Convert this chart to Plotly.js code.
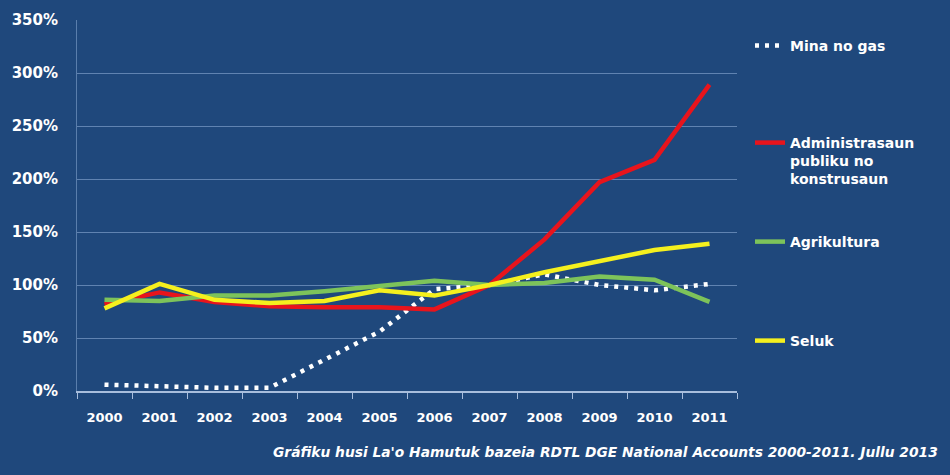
<!DOCTYPE html>
<html>
<head>
<meta charset="utf-8">
<script src="https://cdn.plot.ly/plotly-3.0.1.min.js"></script>
<style>
  html, body { margin: 0; padding: 0; background: #1F487C; }
  #chart { width: 950px; height: 475px; }
</style>
</head>
<body>
<div id="chart"></div>
<script>
const years = ["2000","2001","2002","2003","2004","2005","2006","2007","2008","2009","2010","2011"];
const minaNoGas = [6, 4, 3, 3, 30, 56, 96, 100, 110, 100, 95, 101];
const administrasaun = [82, 93, 84, 80, 79, 79, 77, 100, 143, 197, 218, 289];
const agrikultura = [86, 85, 90, 90, 94, 99, 104, 100, 102, 108, 105, 84];
const seluk = [78, 101, 86, 83, 85, 95, 90, 100, 112, 122, 133, 139];
const seriesNames = ["Mina no gas", "Administrasaun<br>publiku no<br>konstrusaun", "Agrikultura", "Seluk"];
const yTickVals = [0, 50, 100, 150, 200, 250, 300, 350];
const yTickText = ["0%", "50%", "100%", "150%", "200%", "250%", "300%", "350%"];
const sourceNote = "Gráfiku husi La'o Hamutuk bazeia RDTL DGE National Accounts 2000-2011. Jullu 2013";

const FONT = "DejaVu Sans, Open Sans, sans-serif";
const white = "#FFFFFF";

const traces = [
  { x: years, y: minaNoGas, name: seriesNames[0], type: "scatter", mode: "lines",
    line: { color: "#FFFFFF", width: 4.5, dash: "4px,6px" }, legend: "legend" },
  { x: years, y: administrasaun, name: seriesNames[1], type: "scatter", mode: "lines",
    line: { color: "#E8141C", width: 4.5 }, legend: "legend2" },
  { x: years, y: agrikultura, name: seriesNames[2], type: "scatter", mode: "lines",
    line: { color: "#7DC35A", width: 4.5 }, legend: "legend3" },
  { x: years, y: seluk, name: seriesNames[3], type: "scatter", mode: "lines",
    line: { color: "#F5F01E", width: 4.5 }, legend: "legend4" }
];

function leg(yPix, valign) {
  return {
    x: 750 / 950, xref: "container", xanchor: "left",
    y: 1 - yPix / 475, yref: "container", yanchor: "top",
    bgcolor: "rgba(0,0,0,0)", borderwidth: 0,
    font: { family: FONT, size: 14, color: white, weight: "bold" },
    valign: valign || "middle", itemwidth: 30
  };
}

const layout = {
  width: 950, height: 475,
  paper_bgcolor: "#1F487C",
  plot_bgcolor: "#1F487C",
  margin: { l: 77, r: 213, t: 20, b: 84 },
  showlegend: true,
  legend: leg(30),
  legend2: leg(127, "top"),
  legend3: leg(226),
  legend4: leg(325),
  xaxis: {
    type: "category",
    tickson: "boundaries",
    ticks: "outside", ticklen: 6, tickcolor: "#A8BEDD", tickwidth: 1,
    showline: true, linecolor: "#A8BEDD", linewidth: 1.5,
    showgrid: false, zeroline: false, ticklabelstandoff: 14,
    tickfont: { family: FONT, size: 13, color: white, weight: "bold" },
    range: [-0.5, 11.5]
  },
  yaxis: {
    range: [0, 350],
    tickvals: yTickVals, ticktext: yTickText,
    showgrid: true, gridcolor: "rgba(150,180,220,0.55)", gridwidth: 1,
    showline: true, linecolor: "rgba(150,180,220,0.5)", linewidth: 1,
    zeroline: false, ticks: "", ticklabelstandoff: 15,
    tickfont: { family: FONT, size: 15, color: white, weight: "bold" }
  },
  annotations: [{
    text: sourceNote, xref: "paper", yref: "paper",
    x: (940 - 77) / 660, xanchor: "right",
    y: -(452 - 391) / 371, yanchor: "middle",
    showarrow: false,
    font: { family: FONT, size: 13.8, color: white, style: "italic", weight: "bold" }
  }]
};

Plotly.newPlot("chart", traces, layout, { staticPlot: true, displayModeBar: false });
</script>
</body>
</html>
